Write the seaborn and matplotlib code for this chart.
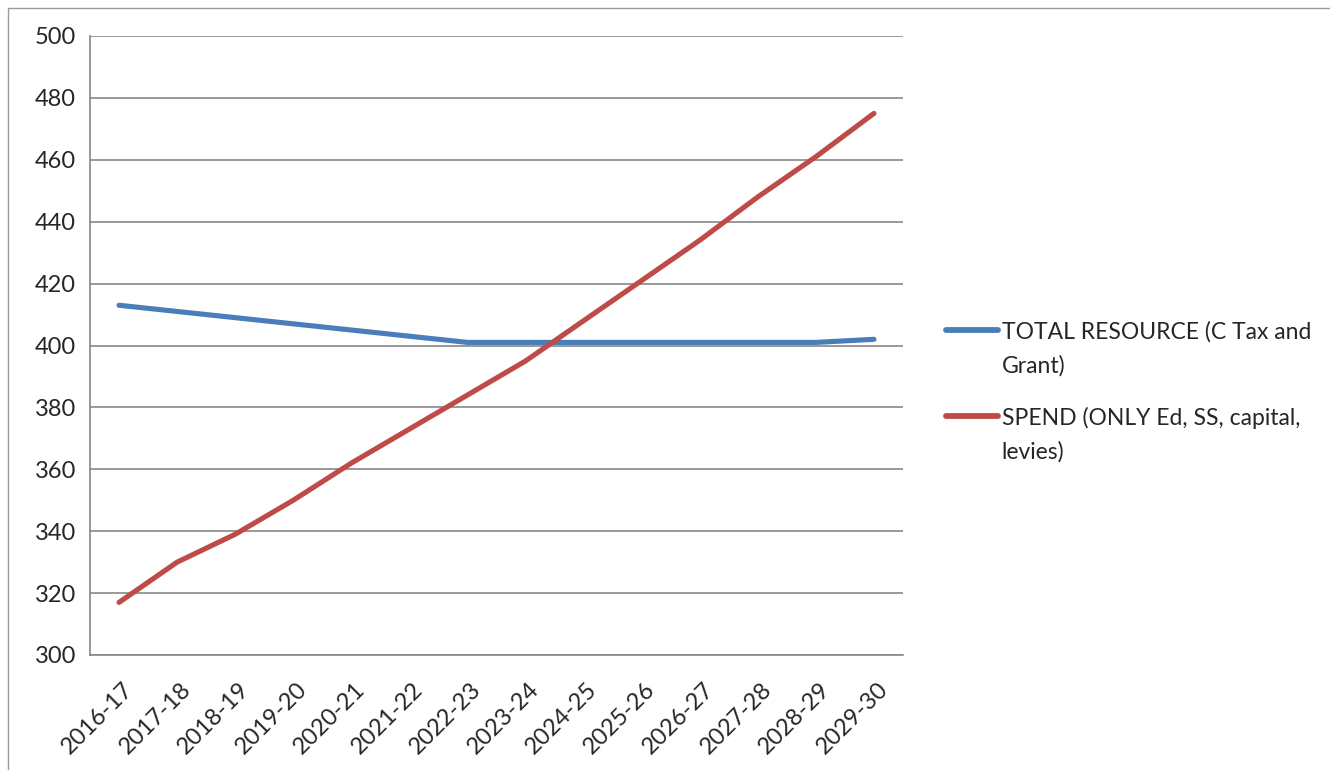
import numpy as np
import pandas as pd
import matplotlib.pyplot as plt
import matplotlib.transforms as mtransforms
import seaborn as sns
from matplotlib.patches import Rectangle
from matplotlib.ticker import FixedLocator

# ---- data ----
years = ['2016-17', '2017-18', '2018-19', '2019-20', '2020-21', '2021-22', '2022-23',
         '2023-24', '2024-25', '2025-26', '2026-27', '2027-28', '2028-29', '2029-30']
resource = [413, 411, 409, 407, 405, 403, 401, 401, 401, 401, 401, 401, 401, 402]
spend = [317, 330, 339, 350, 362, 373, 384, 395, 408, 421, 434, 448, 461, 475]
series_names = ['TOTAL RESOURCE (C Tax and\nGrant)', 'SPEND (ONLY Ed, SS, capital,\nlevies)']
colors = ['#4A7EBB', '#BE4B48']

df = pd.DataFrame({
    'year': list(range(len(years))) * 2,
    'value': resource + spend,
    'series': [series_names[0]] * len(years) + [series_names[1]] * len(years),
})

sns.set_style('white')
plt.rcParams['font.family'] = ['Lato', 'DejaVu Sans']

fig = plt.figure(figsize=(13.3, 7.7), dpi=100)
ax = fig.add_axes([90 / 1330, 1 - 655 / 770, (903 - 90) / 1330, (655 - 36) / 770])

sns.lineplot(data=df, x='year', y='value', hue='series', palette=colors,
             linewidth=3.7, solid_capstyle='round', ax=ax, legend=True)

ax.set_xlim(-0.5, len(years) - 0.5)
ax.set_ylim(300, 500)
ax.set_yticks(np.arange(300, 501, 20))
ax.set_xticks(range(len(years)))
ax.set_xticklabels(years, rotation=45, ha='right', rotation_mode='anchor')
ax.xaxis.set_minor_locator(FixedLocator(np.arange(-0.5, len(years), 1)))
ax.tick_params(axis='x', which='major', length=0, pad=17, labelsize=17)
ax.tick_params(axis='x', which='minor', length=6, color='#878787', width=1.2, direction='out')
ax.tick_params(axis='y', length=6, color='#878787', width=1.2, direction='out', labelsize=17, pad=4)
ax.set_xlabel('')
ax.set_ylabel('')

# nudge the rotated labels right, like the original
shift = mtransforms.ScaledTranslation(3 / 100, 0, fig.dpi_scale_trans)
for lbl in ax.get_xticklabels():
    lbl.set_transform(lbl.get_transform() + shift)

ax.grid(axis='y', color='#878787', linewidth=1.2)
ax.set_axisbelow(True)
for s in ['top', 'right']:
    ax.spines[s].set_visible(False)
for s in ['left', 'bottom']:
    ax.spines[s].set_color('#878787')
    ax.spines[s].set_linewidth(1.2)

leg = ax.legend(loc='center left', bbox_to_anchor=(925 / 1330, 1 - 392 / 770),
                bbox_transform=fig.transFigure, frameon=False, fontsize=16.5,
                handlelength=2.3, handletextpad=0.15, labelspacing=1.35)
for t in leg.get_texts():
    t.set_linespacing(1.7)
for line in leg.get_lines():
    line.set_linewidth(4.2)
    line.set_solid_capstyle('round')
    line.set_ydata(np.asarray(line.get_ydata()) + 14)

fig.patches.append(Rectangle((8 / 1330, -0.1), 1.2, 1 - 8 / 770 + 0.1, transform=fig.transFigure,
                             fill=False, edgecolor='#9a9a9a', linewidth=1))

fig.savefig('out.png', dpi=100)
